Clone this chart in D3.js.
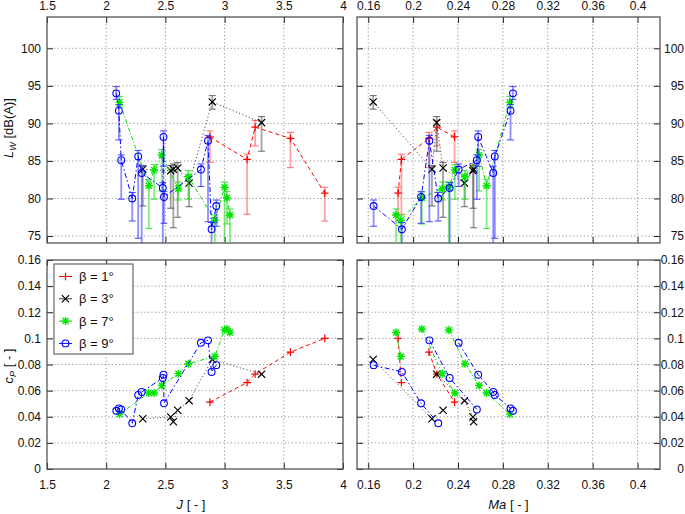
<!DOCTYPE html>
<html><head><meta charset="utf-8">
<script src="https://cdn.jsdelivr.net/npm/d3@7"></script>
<style>
body{margin:0;background:#fff;}
svg{display:block;font-family:"Liberation Sans",Arial,sans-serif;}
</style></head><body>
<svg id="c" width="685" height="514"></svg>
<script>
// ---------------- DATA ----------------
const seriesNames = ["β = 1°", "β = 3°", "β = 7°", "β = 9°"];

// beta = 1 deg
const b1_J    = [2.876, 3.19, 3.258, 3.556, 3.846];
const b1_Ma   = [0.2369, 0.1896, 0.2212, 0.2141, 0.1866];
const b1_LW   = [88.2, 85.2, 89.5, 88.0, 80.7];
const b1_LWlo = [84.8, 77.9, 87.0, 84.1, 77.0];
const b1_LWhi = [89.0, 85.9, 90.4, 88.8, 81.5];
const b1_cP   = [0.0512, 0.0662, 0.0727, 0.0895, 0.1000];
const b1_grp  = [2, 1, 2, 2, 1];

// beta = 3 deg
const b3_J    = [2.309, 2.545, 2.567, 2.604, 2.70, 2.896, 3.312];
const b3_Ma   = [0.2168, 0.2533, 0.2539, 0.2267, 0.2458, 0.1644, 0.2210];
const b3_LW   = [83.9, 83.7, 83.9, 84.06, 82.05, 92.86, 90.1];
const b3_LWlo = [79.0, 78.7, 76.1, 77.5, 78.9, 91.9, 86.3];
const b3_LWhi = [84.4, 84.4, 84.6, 84.8, 83.0, 93.7, 90.9];
const b3_cP   = [0.0385, 0.0398, 0.0362, 0.0450, 0.0523, 0.0838, 0.0726];
const b3_grp  = [1, 2, 2, 1, 2, 1, 2];

// beta = 7 deg
const b7_J    = [2.113, 2.36, 2.405, 2.469, 2.609, 2.693, 2.918, 3.0, 3.02, 3.045];
const b7_Ma   = [0.2862, 0.2655, 0.2372, 0.2588, 0.2260, 0.2462, 0.1890, 0.2319, 0.2078, 0.1848];
const b7_LW   = [92.8, 81.7, 83.8, 85.8, 81.3, 82.9, 77.1, 81.5, 80.1, 77.8];
const b7_LWlo = [92.2, 76.0, 79.9, 81.0, 79.8, 79.9, 72.0, 72.0, 76.6, 72.0];
const b7_LWhi = [93.6, 82.5, 84.5, 86.5, 82.2, 83.7, 77.8, 82.2, 80.9, 78.6];
const b7_cP   = [0.0420, 0.0582, 0.0582, 0.0640, 0.0730, 0.0806, 0.0862, 0.1064, 0.1072, 0.1045];
const b7_grp  = [3, 3, 2, 3, 2, 3, 1, 3, 2, 1];

// beta = 9 deg
const b9_J    = [2.085, 2.107, 2.127, 2.22, 2.27, 2.30, 2.478, 2.488, 2.484, 2.80, 2.86, 2.89, 2.93];
const b9_Ma   = [0.2890, 0.2868, 0.2568, 0.2224, 0.2728, 0.2714, 0.2326, 0.2071, 0.2580, 0.2406, 0.2145, 0.1900, 0.1648];
const b9_LW   = [94.0, 91.7, 85.1, 80.0, 85.6, 83.4, 81.4, 80.2, 88.2, 83.85, 87.7, 75.9, 79.0];
const b9_LWlo = [93.2, 87.8, 79.9, 77.0, 74.7, 72.0, 73.8, 76.7, 84.3, 81.6, 76.9, 72.0, 76.3];
const b9_LWhi = [94.9, 92.5, 85.8, 80.8, 86.4, 84.3, 82.1, 80.9, 89.0, 84.6, 88.4, 76.8, 79.8];
const b9_cP   = [0.0446, 0.0464, 0.0456, 0.0350, 0.0567, 0.0590, 0.0697, 0.0503, 0.0722, 0.0966, 0.0985, 0.0743, 0.0795];
const b9_grp  = [3, 3, 2, 1, 3, 3, 2, 1, 3, 3, 2, 1, 1];

// ticks
const xTicksJ  = [1.5, 2, 2.5, 3, 3.5, 4];
const xTicksMa = [0.16, 0.2, 0.24, 0.28, 0.32, 0.36, 0.4];
const yTicksLW = [75, 80, 85, 90, 95, 100];
const yTicksCP = [0, 0.02, 0.04, 0.06, 0.08, 0.1, 0.12, 0.14, 0.16];

// ---------------- STYLE ----------------
const styles = [
  {color: "#ff0000", err: "#ff5a5a", dash: "4,3",           marker: "plus",   lineColor: "#ff0000"},
  {color: "#000000", err: "#555555", dash: "1,2.5",         marker: "cross",  lineColor: "#333333"},
  {color: "#00e600", err: "#22dd22", dash: "4,2,1,2",       marker: "star",   lineColor: "#00dd00"},
  {color: "#0000ff", err: "#3333ff", dash: "5,2.5,1.5,2.5", marker: "circle", lineColor: "#0000ff"}
];

function build(J, Ma, LW, lo, hi, cP, grp) {
  return J.map((j, i) => ({J: j, Ma: Ma[i], LW: LW[i], lo: lo[i], hi: hi[i], cP: cP[i], grp: grp[i]}));
}
const series = [
  build(b1_J, b1_Ma, b1_LW, b1_LWlo, b1_LWhi, b1_cP, b1_grp),
  build(b3_J, b3_Ma, b3_LW, b3_LWlo, b3_LWhi, b3_cP, b3_grp),
  build(b7_J, b7_Ma, b7_LW, b7_LWlo, b7_LWhi, b7_cP, b7_grp),
  build(b9_J, b9_Ma, b9_LW, b9_LWlo, b9_LWhi, b9_cP, b9_grp)
];

// ---------------- LAYOUT ----------------
const L = {x0: 47, x1: 343}, R = {x0: 357, x1: 660};
const T = {y0: 17, y1: 243}, B = {y0: 260, y1: 469};

const xJ  = d3.scaleLinear().domain([1.5, 4]).range([L.x0, L.x1]);
const xMa = d3.scaleLinear().domain([0.15, 0.42]).range([R.x0, R.x1]);
const yLW = d3.scaleLinear().domain([74.07, 104.17]).range([T.y1, T.y0]);
const yCP = d3.scaleLinear().domain([0, 0.16]).range([B.y1, B.y0]);

const svg = d3.select("#c");
const fmt = d => String(d);

function markerPath(type) {
  if (type === "plus")  return "M-3.8,0H3.8M0,-3.8V3.8";
  if (type === "cross") return "M-3.6,-3.6L3.6,3.6M-3.6,3.6L3.6,-3.6";
  if (type === "star")  return "M-4,0H4M0,-4V4M-3,-3L3,3M-3,3L3,-3";
  return null;
}
function drawMarker(g, type, color, x, y) {
  if (type === "circle") {
    g.append("circle").attr("cx", x).attr("cy", y).attr("r", 3.4)
      .attr("fill", "none").attr("stroke", color).attr("stroke-width", 1.1);
  } else {
    g.append("path").attr("d", markerPath(type)).attr("transform", `translate(${x},${y})`)
      .attr("fill", "none").attr("stroke", color)
      .attr("stroke-width", type === "star" ? 1.4 : 1.2);
  }
}

let clipId = 0;
function panel(opt) {
  const {xs, ys, xTicks, yTicks, x0, x1, y0, y1} = opt;
  const g = svg.append("g");
  // grid
  const grid = g.append("g").attr("stroke", "#8a8a8a").attr("stroke-width", 0.9)
    .attr("stroke-dasharray", "1.2,2.4");
  xTicks.forEach(t => {
    const x = xs(t);
    if (x > x0 + 1 && x < x1 - 1)
      grid.append("line").attr("x1", x).attr("x2", x).attr("y1", y0).attr("y2", y1);
  });
  yTicks.forEach(t => {
    const y = ys(t);
    if (y > y0 + 1 && y < y1 - 1)
      grid.append("line").attr("x1", x0).attr("x2", x1).attr("y1", y).attr("y2", y);
  });
  // axes (inward ticks on all four sides)
  const axL = d3.axisLeft(ys).tickValues(yTicks).tickSize(-6).tickPadding(6)
    .tickFormat(opt.yLeft ? fmt : "");
  const axR = d3.axisRight(ys).tickValues(yTicks).tickSize(-6).tickPadding(6)
    .tickFormat(opt.yRight ? fmt : "");
  const axT = d3.axisTop(xs).tickValues(xTicks).tickSize(-6).tickPadding(7)
    .tickFormat(opt.xTop ? fmt : "");
  const axB = d3.axisBottom(xs).tickValues(xTicks).tickSize(-6).tickPadding(11)
    .tickFormat(opt.xBottom ? fmt : "");
  const axes = [
    g.append("g").attr("transform", `translate(${x0},0)`).call(axL),
    g.append("g").attr("transform", `translate(${x1},0)`).call(axR),
    g.append("g").attr("transform", `translate(0,${y0})`).call(axT),
    g.append("g").attr("transform", `translate(0,${y1})`).call(axB)
  ];
  axes.forEach(a => {
    a.select(".domain").remove();
    a.selectAll(".tick line").attr("stroke", "#222").attr("stroke-width", 1);
    a.selectAll("text").attr("font-size", 12).attr("fill", "#111")
      .attr("font-family", "'Liberation Sans', Arial, sans-serif");
  });
  if (opt.yRight) {
    axes[1].selectAll("text").attr("text-anchor", "end").attr("x", 684 - x1);
  }
  // frame
  g.append("rect").attr("x", x0).attr("y", y0).attr("width", x1 - x0).attr("height", y1 - y0)
    .attr("fill", "none").attr("stroke", "#555").attr("stroke-width", 1.3);
  // clip
  const id = "clip" + (clipId++);
  svg.append("clipPath").attr("id", id).append("rect")
    .attr("x", x0).attr("y", y0).attr("width", x1 - x0).attr("height", y1 - y0);
  const data = g.append("g").attr("clip-path", `url(#${id})`);
  // series
  series.forEach((pts, si) => {
    const st = styles[si];
    const sg = data.append("g");
    const px = d => xs(d[opt.xKey]), py = d => ys(d[opt.yKey]);
    if (opt.err) {
      const eg = sg.append("g");
      pts.forEach(d => {
        const x = px(d), ya = ys(d.lo), yb = ys(d.hi);
        eg.append("line").attr("x1", x).attr("x2", x).attr("y1", ya).attr("y2", yb)
          .attr("stroke", st.err).attr("stroke-opacity", 0.55).attr("stroke-width", 1.8);
        [ya, yb].forEach(yy => eg.append("line").attr("x1", x - 3.5).attr("x2", x + 3.5)
          .attr("y1", yy).attr("y2", yy).attr("stroke", st.err).attr("stroke-opacity", 0.9)
          .attr("stroke-width", 1));
      });
    }
    const line = d3.line().x(px).y(py);
    let groups;
    if (opt.grouped) {
      groups = d3.groups(pts, d => d.grp).map(gr => gr[1].slice().sort((a, b) => a[opt.xKey] - b[opt.xKey]));
    } else {
      groups = [pts.slice().sort((a, b) => a[opt.xKey] - b[opt.xKey])];
    }
    groups.forEach(gp => {
      sg.append("path").attr("d", line(gp)).attr("fill", "none")
        .attr("stroke", st.lineColor).attr("stroke-width", 1)
        .attr("stroke-dasharray", st.dash);
    });
    pts.forEach(d => drawMarker(sg, st.marker, st.color, px(d), py(d)));
  });
  return g;
}

panel({xs: xJ, ys: yLW, xTicks: xTicksJ, yTicks: yTicksLW, x0: L.x0, x1: L.x1, y0: T.y0, y1: T.y1,
  xKey: "J", yKey: "LW", err: true, yLeft: true, xTop: true});
panel({xs: xMa, ys: yLW, xTicks: xTicksMa, yTicks: yTicksLW, x0: R.x0, x1: R.x1, y0: T.y0, y1: T.y1,
  xKey: "Ma", yKey: "LW", err: true, yRight: true, xTop: true});
panel({xs: xJ, ys: yCP, xTicks: xTicksJ, yTicks: yTicksCP, x0: L.x0, x1: L.x1, y0: B.y0, y1: B.y1,
  xKey: "J", yKey: "cP", yLeft: true, xBottom: true});
panel({xs: xMa, ys: yCP, xTicks: xTicksMa, yTicks: yTicksCP, x0: R.x0, x1: R.x1, y0: B.y0, y1: B.y1,
  xKey: "Ma", yKey: "cP", yRight: true, xBottom: true, grouped: true});

// ---------------- AXIS TITLES ----------------
const t1 = svg.append("text").attr("transform", "translate(13,128) rotate(-90)")
  .attr("text-anchor", "middle").attr("font-size", 13).attr("fill", "#111");
t1.append("tspan").attr("font-style", "italic").text("L");
t1.append("tspan").attr("font-style", "italic").attr("font-size", 9).attr("dy", 3).text("W");
t1.append("tspan").attr("dy", -3).text(" [dB(A)]");

const t2 = svg.append("text").attr("transform", "translate(13,366) rotate(-90)")
  .attr("text-anchor", "middle").attr("font-size", 13).attr("fill", "#111");
t2.append("tspan").attr("font-style", "italic").text("c");
t2.append("tspan").attr("font-style", "italic").attr("font-size", 9).attr("dy", 3).text("P");
t2.append("tspan").attr("dy", -3).text(" [ - ]");

const t3 = svg.append("text").attr("x", (L.x0 + L.x1) / 2 - 4).attr("y", 509)
  .attr("text-anchor", "middle").attr("font-size", 13).attr("fill", "#111");
t3.append("tspan").attr("font-style", "italic").text("J");
t3.append("tspan").text(" [ - ]");

const t4 = svg.append("text").attr("x", (R.x0 + R.x1) / 2).attr("y", 509)
  .attr("text-anchor", "middle").attr("font-size", 13).attr("fill", "#111");
t4.append("tspan").attr("font-style", "italic").text("Ma");
t4.append("tspan").text(" [ - ]");

// ---------------- LEGEND ----------------
const lg = svg.append("g");
lg.append("rect").attr("x", 54).attr("y", 264).attr("width", 79).attr("height", 90)
  .attr("fill", "#fff").attr("stroke", "#666").attr("stroke-width", 1.2);
seriesNames.forEach((name, i) => {
  const st = styles[i];
  const y = 276.5 + i * 22.3;
  lg.append("line").attr("x1", 59).attr("x2", 72).attr("y1", y).attr("y2", y)
    .attr("stroke", st.lineColor).attr("stroke-width", 1);
  drawMarker(lg, st.marker, st.color, 65.5, y);
  lg.append("text").attr("x", 79).attr("y", y + 4.6).attr("font-size", 13)
    .attr("fill", "#111").text(name);
});
</script>
</body></html>
